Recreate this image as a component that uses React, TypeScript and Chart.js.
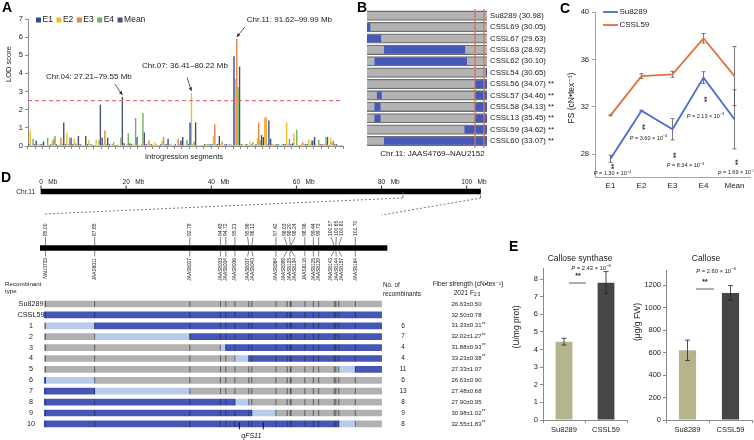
import React, { useEffect, useRef } from 'react';
import { Chart, registerables } from 'chart.js';

Chart.register(...registerables);

const FONT = '"Liberation Sans", Arial, "DejaVu Sans", sans-serif';
Chart.defaults.font.family = FONT;
Chart.defaults.color = '#1a1a1a';

/* ---------------- Panel A data ---------------- */
const segmentLabels = ['s01','s02','s03','s04','s05','s06','s07','s08','s09','s10','s11','s12','s13','s14','s15','s16','s17','s18','s19','s20','s21','s22','s23','s24','s25','s26','s27','s28','s29','s30','s31','s32','s33','s34','s35','s36','s37','s38','s39','s40','s41','s42','s43'];
const lodE1 = [0.10,0.30,0.25,0.10,0.05,0.10,0.10,0.10,0.10,0.05, 0.45,0.10,0.05,0.15,0.10,0.05,0.10,0.05,0.10,0.40, 0.10,0.50,1.30,0.05,0.10,0.10,0.55,0.10,4.95,0.10, 0.05,0.10,0.50,0.40,0.10,0.10,0.15,0.05,0.10,0.50, 0.10,0.05,0.10];
const lodE2 = [0.85,0.10,0.05,0.30,0.10,0.75,0.40,0.10,0.35,0.35, 0.10,0.05,0.10,0.05,0.10,0.05,0.10,0.20,0.30,0.10, 0.05,0.10,2.92,0.05,0.10,0.55,0.10,0.05,3.70,0.10, 0.25,0.45,1.55,0.10,0.10,1.30,0.70,0.10,0.35,0.10, 0.10,0.45,0.05];
const lodE3 = [0.05,0.10,0.05,0.40,0.45,0.10,0.15,0.05,0.10,0.05, 0.85,0.10,0.05,0.10,0.05,0.10,0.30,0.10,0.50,0.10, 0.40,0.05,0.10,0.05,0.10,1.20,0.25,0.10,5.90,0.05, 0.10,1.30,1.60,0.10,0.05,0.10,0.05,0.20,0.10,0.05, 0.10,0.20,0.05];
const lodE4 = [0.40,0.10,0.45,0.55,0.10,0.45,0.10,0.05,0.10,0.30, 0.10,0.20,0.45,0.70,1.55,1.82,0.10,0.05,0.10,0.05, 0.10,0.35,0.25,0.05,0.10,0.10,0.05,0.10,3.25,0.10, 0.20,0.30,0.10,0.05,0.10,0.40,0.90,0.10,0.30,0.35, 0.50,0.30,0.05];
const lodMean = [0.10,0.10,0.05,0.10,1.30,0.45,0.55,0.55,0.05,2.28, 0.45,0.05,2.70,0.15,0.50,0.75,0.10,0.05,0.10,0.05, 0.30,0.10,1.30,0.05,0.10,0.10,0.10,0.05,4.38,0.10, 0.05,0.60,1.40,0.10,0.10,0.10,0.05,0.10,0.30,0.10, 0.50,0.10,0.05];
const lodSeriesNames = ['E1', 'E2', 'E3', 'E4', 'Mean'];
const lodYTicks = [0, 1, 2, 3, 4, 5, 6, 7];
const lodThreshold = 2.5;
const peakTexts = ['Chr.04: 27.21–79.55 Mb', 'Chr.07: 36.41–80.22 Mb', 'Chr.11: 91.62–99.99 Mb'];
const peakSegments = [12, 22, 28];
const peakSeries = [4, 1, 2];

/* ---------------- Panel B data ---------------- */
const csslRows = ['Su8289 (30.98)','CSSL69 (30.05)','CSSL67 (29.63)','CSSL63 (28.92)','CSSL62 (30.10)','CSSL54 (30.65)','CSSL56 (34.07) **','CSSL57 (34.46) **','CSSL58 (34.13) **','CSSL13 (35.45) **','CSSL59 (34.62) **','CSSL60 (33.07) **'];
const csslSeg1: any[] = [null,[0,2.5],[0,11.5],[14.5,81.5],[6.5,83],null,null,[8.5,12],[6.5,11],[6.5,11],null,[14.5,100]];
const csslSeg2: any[] = [null,null,null,null,null,[99.2,100],[90,100],[90,100],[90,100],[90,100],[81.5,100],null];
const chrSpan = [0, 100];
const markedInterval = [90, 97.5];
const csslRegionText = 'Chr.11: JAAS4769–NAU2152';

/* ---------------- Panel C data ---------------- */
const envLabels = ['E1', 'E2', 'E3', 'E4', 'Mean'];
const fsSu8289 = [27.6, 31.67, 30.1, 34.47, 30.94];
const fsSu8289Err = [0.3, 0.05, 0.9, 0.5, 2.5];
const fsCSSL59 = [31.28, 34.6, 34.75, 37.8, 34.6];
const fsCSSL59Err = [0.05, 0.2, 0.25, 0.4, 2.5];
const fsPMant = ['1.30', '3.60', '8.34', '2.13', '1.69'];
const fsPExp = ['−4', '−4', '−3', '−3', '−3'];
const fsYTicks = [28, 32, 36, 40];

/* ---------------- Panel D data ---------------- */
const chrLengthMb = 103.36;
const overviewTicksMb = [0, 20, 40, 60, 80, 100];
const zoomStartMb = 85;
const zoomBarMb = [84.70, 103.41];
const recombSpanMb = [84.935, 103.12];
const markerMb = [85.00, 87.65, 92.78, 94.43, 94.72, 95.21, 95.96, 96.12, 97.42, 98.03, 98.20, 98.24, 98.98, 99.44, 99.73, 100.57, 100.65, 100.81, 101.70];
const markerNames = ['NAU0703','JAAS8011','JAAS8027','JAAS8033','JAAS8034','JAAS8036','JAAS8037','JAAS8040','JAAS8084','JAAS8099','JAAS8103','JAAS8104','JAAS8118','JAAS8125','JAAS8129','JAAS8143','JAAS8144','JAAS8157','JAAS8164'];
const recombRows = ['Su8289', 'CSSL59', '1', '2', '3', '4', '5', '6', '7', '8', '9', '10'];
const grayIntervals: any[] = [[84.935,103.12],null,[84.935,85.00],[84.935,87.65],[84.935,94.43],[84.935,95.21],[84.935,100.81],[87.65,103.12],[92.78,103.12],[95.96,103.12],[97.42,103.12],[101.70,103.12]];
const blueIntervals: any[] = [null,[84.935,103.12],[87.65,103.12],[92.78,103.12],[94.72,103.12],[95.96,103.12],[101.70,103.12],[84.935,85.00],[84.935,87.65],[84.935,95.21],[84.935,96.12],[84.935,100.81]];
const lightIntervals: any[] = [null,null,[85.00,87.65],[87.65,92.78],[94.43,94.72],[95.21,95.96],[100.81,101.70],[85.00,87.65],[87.65,92.78],[95.21,95.96],[96.12,97.42],[100.81,101.70]];
const recombCounts = ['', '', '6', '7', '4', '4', '11', '6', '13', '8', '9', '8'];
const fiberStrength = ['26.63±0.50','32.50±0.78','31.33±0.31','32.02±1.27','31.88±0.93','33.23±0.38','27.33±1.07','26.63±0.90','27.48±0.68','27.90±0.95','30.98±1.02','32.55±1.83'];
const fiberSig = ['', '', '**', '**', '**', '**', '', '', '', '', '**', '**'];
const qtlMb = [95.45, 96.74];

/* ---------------- Panel E data ---------------- */
const genotypes = ['Su8289', 'CSSL59'];
const calloseSynthase = [4.45, 7.8];
const calloseSynthaseErr = [0.19, 0.63];
const callose = [620, 1130];
const calloseErr = [90, 65];
const csYTicks = [0, 1, 2, 3, 4, 5, 6, 7, 8];
const calloseYTicks = [0, 200, 400, 600, 800, 1000, 1200];

/* ---------------- layout ---------------- */
const BOX = {
  A: { l: 0, t: 0, w: 350, h: 170 },
  B: { l: 360, t: 0, w: 215, h: 165 },
  C: { l: 560, t: 0, w: 194, h: 195 },
  D1: { l: 0, t: 160, w: 500, h: 125 },
  D2: { l: 0, t: 280, w: 530, h: 160 },
  E1: { l: 505, t: 250, w: 125, h: 190 },
  E2: { l: 630, t: 250, w: 124, h: 190 },
};

const lodColors = ['#2d4b9b', '#f1be2a', '#e7823f', '#6fb15e', '#45546b'];
const INK = '#1a1a1a';

function drawText(ctx: any, s: string, x: number, y: number, size: number, align: any = 'left', o: any = {}) {
  ctx.save();
  ctx.font = `${o.italic ? 'italic ' : ''}${o.bold ? 'bold ' : ''}${size}px ${FONT}`;
  ctx.fillStyle = o.color || INK;
  ctx.textAlign = align;
  ctx.textBaseline = o.baseline || 'middle';
  ctx.translate(x, y);
  if (o.rotate) ctx.rotate(o.rotate);
  ctx.fillText(s, 0, 0);
  ctx.restore();
}
function textW(ctx: any, s: string, size: number, o: any = {}) {
  ctx.save();
  ctx.font = `${o.italic ? 'italic ' : ''}${o.bold ? 'bold ' : ''}${size}px ${FONT}`;
  const w = ctx.measureText(s).width;
  ctx.restore();
  return w;
}
function strokeLine(ctx: any, x1: number, y1: number, x2: number, y2: number, color = '#333', lw = 1, dash: number[] = []) {
  ctx.save();
  ctx.strokeStyle = color; ctx.lineWidth = lw; ctx.setLineDash(dash);
  ctx.beginPath(); ctx.moveTo(x1, y1); ctx.lineTo(x2, y2); ctx.stroke();
  ctx.restore();
}
function errBar(ctx: any, x: number, yTop: number, yBot: number, cap: number, color: string, lw: number) {
  strokeLine(ctx, x, yTop, x, yBot, color, lw);
  strokeLine(ctx, x - cap, yTop, x + cap, yTop, color, lw);
  strokeLine(ctx, x - cap, yBot, x + cap, yBot, color, lw);
}
function arrow(ctx: any, x1: number, y1: number, x2: number, y2: number) {
  ctx.save();
  ctx.strokeStyle = '#333'; ctx.fillStyle = '#333'; ctx.lineWidth = 0.8;
  ctx.beginPath(); ctx.moveTo(x1, y1); ctx.lineTo(x2, y2); ctx.stroke();
  const a = Math.atan2(y2 - y1, x2 - x1), L = 4;
  ctx.beginPath();
  ctx.moveTo(x2, y2);
  ctx.lineTo(x2 - L * Math.cos(a - 0.45), y2 - L * Math.sin(a - 0.45));
  ctx.lineTo(x2 - L * Math.cos(a + 0.45), y2 - L * Math.sin(a + 0.45));
  ctx.closePath(); ctx.fill();
  ctx.restore();
}
function drawPValue(ctx: any, cx: number, cy: number, mant: string, exp: string, size: number) {
  const body = ` = ${mant} × 10`;
  const wP = textW(ctx, 'P', size, { italic: true });
  const wB = textW(ctx, body, size);
  const wE = textW(ctx, exp, size * 0.7);
  let x = cx - (wP + wB + wE) / 2;
  drawText(ctx, 'P', x, cy, size, 'left', { italic: true }); x += wP;
  drawText(ctx, body, x, cy, size, 'left'); x += wB;
  drawText(ctx, exp, x, cy - size * 0.38, size * 0.7, 'left');
}
function spread(xs: number[], gap: number) {
  const out = xs.slice();
  for (let it = 0; it < 300; it++) {
    let moved = false;
    for (let i = 1; i < out.length; i++) {
      const d = out[i] - out[i - 1];
      if (d < gap - 0.01) { const p = (gap - d) / 2; out[i - 1] -= p; out[i] += p; moved = true; }
    }
    if (!moved) break;
  }
  return out;
}
const noUi = { legend: { display: false }, tooltip: { enabled: false } };

/* ---------------- Chart builders ---------------- */
function buildA(canvas: HTMLCanvasElement) {
  const series = [lodE1, lodE2, lodE3, lodE4, lodMean];
  const plugin = {
    id: 'panelA',
    afterDatasetsDraw(chart: any) {
      const ctx = chart.ctx;
      const { left, right } = chart.chartArea;
      const ys = chart.scales.y;
      const yt = ys.getPixelForValue(lodThreshold);
      strokeLine(ctx, left, yt, right, yt, '#e05a5a', 1, [4, 3]);
      let lx = 36; const ly = 20;
      lodSeriesNames.forEach((n, i) => {
        ctx.fillStyle = lodColors[i];
        ctx.fillRect(lx, ly - 2.5, 5, 5);
        drawText(ctx, n, lx + 6.5, ly, 8.5, 'left');
        lx += 6.5 + textW(ctx, n, 8.5) + 3.5;
      });
      drawText(ctx, 'LOD score', 9, 64, 7.5, 'center', { rotate: -Math.PI / 2 });
      drawText(ctx, 'Introgression segments', 184, 157, 7.5, 'center');
      const geo = [
        { tail: [-7.5, -11], text: [-33.5, -18], align: 'center' },
        { tail: [-4.4, -13.7], text: [-6.5, -25.7], align: 'center' },
        { tail: [8, -10], text: [10, -17], align: 'left' },
      ];
      peakTexts.forEach((t, k) => {
        const el = chart.getDatasetMeta(peakSeries[k]).data[peakSegments[k]];
        const tx = el.x, ty = el.y - 2;
        arrow(ctx, tx + geo[k].tail[0], ty + geo[k].tail[1], tx, ty);
        drawText(ctx, t, tx + geo[k].text[0], ty + geo[k].text[1], 8, geo[k].align);
      });
    },
  };
  return new Chart(canvas, {
    type: 'bar',
    data: {
      labels: segmentLabels,
      datasets: series.map((d, i) => ({
        label: lodSeriesNames[i], data: d, backgroundColor: lodColors[i],
        categoryPercentage: 0.95, barPercentage: 1.0, borderWidth: 0,
      })),
    },
    options: {
      responsive: false, animation: false, events: [],
      layout: { padding: { left: 0, right: 7, top: 19, bottom: 0 } },
      plugins: noUi as any,
      scales: {
        x: {
          grid: { display: true, drawOnChartArea: false, drawTicks: true, tickLength: 3, color: '#8a8a8a', offset: true },
          border: { display: true, color: '#8a8a8a' },
          ticks: { display: false },
          afterFit: (s: any) => { s.height = 24; },
        },
        y: {
          min: 0, max: 7,
          afterBuildTicks: (s: any) => { s.ticks = lodYTicks.map((v) => ({ value: v })); },
          ticks: { font: { size: 7.5 }, color: INK, padding: 2 },
          grid: { drawOnChartArea: false, tickLength: 3, color: '#8a8a8a' },
          border: { color: '#8a8a8a' },
          afterFit: (s: any) => { s.width = 28; },
        },
      },
    } as any,
    plugins: [plugin],
  });
}

function buildB(canvas: HTMLCanvasElement) {
  const box = BOX.B;
  const plugin = {
    id: 'panelB',
    afterDatasetsDraw(chart: any) {
      const ctx = chart.ctx;
      const xs = chart.scales.x;
      const { top, bottom } = chart.chartArea;
      markedInterval.forEach((v) => {
        const x = xs.getPixelForValue(v);
        strokeLine(ctx, x, top - 1, x, bottom + 1, '#d27656', 1.3);
      });
      drawText(ctx, csslRegionText, 432.5 - box.l, 154 - box.t, 8, 'center');
    },
  };
  return new Chart(canvas, {
    type: 'bar',
    data: {
      labels: csslRows,
      datasets: [
        { data: csslSeg1, backgroundColor: '#4658b9', barThickness: 7, grouped: false, order: 1, borderWidth: 0 },
        { data: csslSeg2, backgroundColor: '#4658b9', barThickness: 7, grouped: false, order: 1, borderWidth: 0 },
        {
          data: csslRows.map(() => chrSpan), backgroundColor: '#b3b3b3', borderColor: '#6e6e6e',
          borderWidth: { top: 1.3, bottom: 1.3, left: 0, right: 0 }, borderSkipped: false,
          barThickness: 9.5, grouped: false, order: 2,
        },
      ],
    } as any,
    options: {
      indexAxis: 'y', responsive: false, animation: false, events: [],
      layout: { padding: { left: 7, right: 0, top: 10, bottom: 18.3 } },
      plugins: noUi as any,
      scales: {
        x: { display: false, min: 0, max: 100 },
        y: {
          position: 'right',
          grid: { display: false, drawTicks: false }, border: { display: false },
          ticks: { font: { size: 7.8 }, color: INK, padding: 3, autoSkip: false },
          afterFit: (s: any) => { s.width = 88; },
        },
      },
    } as any,
    plugins: [plugin],
  });
}

function buildC(canvas: HTMLCanvasElement) {
  const box = BOX.C;
  const starFS = [26.95, 30.3, 27.9, 32.65, 27.3];
  const pFS = [26.35, 29.35, 27.0, 31.2, 26.4];
  const pDx = [2, 7, 13, 2, 2];
  const plugin = {
    id: 'panelC',
    beforeDatasetsDraw(chart: any) {
      const ctx = chart.ctx; const xs = chart.scales.x, ys = chart.scales.y;
      const sets: [number[], number[]][] = [[fsSu8289, fsSu8289Err], [fsCSSL59, fsCSSL59Err]];
      sets.forEach(([v, e]) => v.forEach((val, i) => {
        const x = xs.getPixelForValue(i);
        errBar(ctx, x, ys.getPixelForValue(val + e[i]), ys.getPixelForValue(val - e[i]), 2, '#555', 0.8);
      }));
    },
    afterDatasetsDraw(chart: any) {
      const ctx = chart.ctx; const xs = chart.scales.x, ys = chart.scales.y;
      envLabels.forEach((_, i) => {
        const x = xs.getPixelForValue(i);
        drawText(ctx, '**', x, ys.getPixelForValue(starFS[i]), 7, 'center', { rotate: Math.PI / 2, bold: true });
        drawPValue(ctx, x + pDx[i], ys.getPixelForValue(pFS[i]), fsPMant[i], fsPExp[i], 5.5);
      });
      strokeLine(ctx, 603 - box.l, 12, 618 - box.l, 12, '#4a6cd4', 1.8);
      drawText(ctx, 'Su8289', 619.5 - box.l, 12, 8);
      strokeLine(ctx, 603 - box.l, 25, 618 - box.l, 25, '#e2703a', 1.8);
      drawText(ctx, 'CSSL59', 619.5 - box.l, 25, 8);
      drawText(ctx, 'FS (cN•tex⁻¹)', 572 - box.l, 98, 8.5, 'center', { rotate: -Math.PI / 2 });
    },
  };
  return new Chart(canvas, {
    type: 'line',
    data: {
      labels: envLabels,
      datasets: [
        { label: 'Su8289', data: fsSu8289, borderColor: '#4a6cd4', borderWidth: 1.8, pointRadius: 0, tension: 0 },
        { label: 'CSSL59', data: fsCSSL59, borderColor: '#e2703a', borderWidth: 1.8, pointRadius: 0, tension: 0 },
      ],
    },
    options: {
      responsive: false, animation: false, events: [],
      layout: { padding: { left: 0, right: 4, top: 12.3, bottom: 0 } },
      plugins: noUi as any,
      scales: {
        x: {
          offset: true, grid: { display: false, drawTicks: false }, border: { display: true, color: '#a6a6a6' },
          ticks: { font: { size: 8 }, color: INK, padding: 3 },
          afterFit: (s: any) => { s.height = 17.3; },
        },
        y: {
          min: 26, max: 40,
          afterBuildTicks: (s: any) => { s.ticks = fsYTicks.map((v) => ({ value: v })); },
          grid: { drawOnChartArea: false, tickLength: 3, color: '#a6a6a6' },
          border: { color: '#a6a6a6' },
          ticks: { font: { size: 7.5 }, color: INK, padding: 3 },
          afterFit: (s: any) => { s.width = 35; },
        },
      },
    } as any,
    plugins: [plugin],
  });
}

function buildD1(canvas: HTMLCanvasElement) {
  const plugin = {
    id: 'panelD1',
    afterDatasetsDraw(chart: any) {
      const ctx = chart.ctx;
      const xo = chart.scales.xo, xd = chart.scales.xd, ys = chart.scales.y;
      const ovY = ys.getPixelForValue(0), zY = ys.getPixelForValue(1);
      drawText(ctx, 'Chr.11', 35, ovY + 0.5, 6.5, 'right');
      overviewTicksMb.forEach((v) => {
        const x = xo.getPixelForValue(v);
        strokeLine(ctx, x, ovY - 6, x, ovY - 2.5, '#000', 0.8);
        const num = String(v);
        const w = textW(ctx, num, 6.5);
        drawText(ctx, num, x, ovY - 9.5, 6.5, 'center');
        drawText(ctx, 'Mb', x + w / 2 + 5.5, ovY - 9.5, 6.5, 'left');
      });
      const xa = xo.getPixelForValue(zoomStartMb), xb = xo.getPixelForValue(chrLengthMb);
      strokeLine(ctx, xa, ovY - 3, xa, ovY + 6.5, '#444', 0.8, [2, 1.5]);
      strokeLine(ctx, xb - 0.5, ovY - 3, xb - 0.5, ovY + 6.5, '#444', 0.8, [2, 1.5]);
      strokeLine(ctx, xa, ovY + 6.5, xd.getPixelForValue(recombSpanMb[0]), ovY + 22.5, '#555', 0.8, [2, 2]);
      strokeLine(ctx, xb, ovY + 6.5, xd.getPixelForValue(recombSpanMb[1]), ovY + 23.5, '#555', 0.8, [2, 2]);
      const mx = markerMb.map((m) => xd.getPixelForValue(m));
      const lx = spread(mx, 5.4);
      markerMb.forEach((m, i) => {
        strokeLine(ctx, lx[i], zY - 11, mx[i], zY - 2.5, '#666', 0.8);
        strokeLine(ctx, mx[i], zY + 2.5, lx[i], zY + 8.5, '#666', 0.8);
        drawText(ctx, m.toFixed(2), lx[i], zY - 12, 5, 'left', { rotate: -Math.PI / 2 });
        drawText(ctx, markerNames[i], lx[i], zY + 10, 4.8, 'right', { rotate: -Math.PI / 2 });
      });
    },
  };
  return new Chart(canvas, {
    type: 'bar',
    data: {
      labels: ['Chr.11', 'zoom'],
      datasets: [
        { indexAxis: 'y', data: [[0, chrLengthMb], null], xAxisID: 'xo', yAxisID: 'y', backgroundColor: '#000', barThickness: 5, grouped: false },
        { indexAxis: 'y', data: [null, [zoomBarMb[0], zoomBarMb[1]]], xAxisID: 'xd', yAxisID: 'y', backgroundColor: '#000', barThickness: 5, grouped: false },
      ],
    } as any,
    options: {
      indexAxis: 'y', responsive: false, animation: false, events: [],
      layout: { padding: { left: 40, right: 19, top: 3.25, bottom: 8.75 } },
      plugins: noUi as any,
      scales: {
        y: { type: 'category', axis: 'y', display: false },
        xo: { type: 'linear', axis: 'x', min: -0.235, max: 103.36, display: false },
        xd: { type: 'linear', axis: 'x', min: 84.7035, max: 108.477, display: false },
      },
    } as any,
    plugins: [plugin],
  });
}

function buildD2(canvas: HTMLCanvasElement) {
  const box = BOX.D2;
  const plugin = {
    id: 'panelD2',
    afterDatasetsDraw(chart: any) {
      const ctx = chart.ctx; const xs = chart.scales.x, ys = chart.scales.y;
      recombRows.forEach((r, i) => {
        const yc = ys.getPixelForValue(i);
        markerMb.forEach((m) => {
          const x = xs.getPixelForValue(m);
          strokeLine(ctx, x, yc - 3, x, yc + 3, 'rgba(35,35,55,0.6)', 1);
        });
        drawText(ctx, r, 31, yc, 7.2, 'center');
        if (recombCounts[i]) drawText(ctx, recombCounts[i], 403, yc, 6.5, 'center');
        drawText(ctx, fiberStrength[i], 451.5, yc, 6, 'left');
        if (fiberSig[i]) {
          const w = textW(ctx, fiberStrength[i], 6);
          drawText(ctx, fiberSig[i], 451.5 + w + 0.3, yc - 1.5, 4.8, 'left');
        }
      });
      drawText(ctx, 'Recombinant', 5, 284 - box.t, 6.2, 'left');
      drawText(ctx, 'type', 5, 291.5 - box.t, 6.2, 'left');
      drawText(ctx, 'No. of', 383, 285 - box.t, 6.3, 'left');
      drawText(ctx, 'recombinants', 383, 294 - box.t, 6.3, 'left');
      drawText(ctx, 'Fiber strength (cN•tex⁻¹)', 468, 284 - box.t, 6.5, 'center');
      const w1 = textW(ctx, '2021 F', 6.5);
      const w2 = textW(ctx, '2:3', 4.5);
      const sx = 467 - (w1 + w2) / 2;
      drawText(ctx, '2021 F', sx, 293.5 - box.t, 6.5, 'left');
      drawText(ctx, '2:3', sx + w1, 295 - box.t, 4.5, 'left');
      const yl = ys.getPixelForValue(recombRows.length - 1);
      qtlMb.forEach((m) => {
        const x = xs.getPixelForValue(m);
        strokeLine(ctx, x, yl - 1.5, x, yl + 5.5, '#111', 1);
      });
      drawText(ctx, 'qFS11', (xs.getPixelForValue(qtlMb[0]) + xs.getPixelForValue(qtlMb[1])) / 2, 436 - box.t, 7, 'center', { italic: true });
    },
  };
  return new Chart(canvas, {
    type: 'bar',
    data: {
      labels: recombRows,
      datasets: [
        { data: blueIntervals, backgroundColor: '#4656b6', barThickness: 6, grouped: false, borderWidth: 0, order: 1 },
        { data: lightIntervals, backgroundColor: '#b9cbeb', barThickness: 6, grouped: false, borderWidth: 0, order: 2 },
        { data: grayIntervals, backgroundColor: '#b1b1b1', barThickness: 6, grouped: false, borderWidth: 0, order: 3 },
      ],
    } as any,
    options: {
      indexAxis: 'y', responsive: false, animation: false, events: [],
      layout: { padding: { left: 40, right: 49, top: 18.55, bottom: 10.65 } },
      plugins: noUi as any,
      scales: {
        x: { type: 'linear', min: 84.7035, max: 108.477, display: false },
        y: { type: 'category', display: false },
      },
    } as any,
    plugins: [plugin],
  });
}

function buildE(canvas: HTMLCanvasElement, cfg: any) {
  const plugin = {
    id: 'panelE' + cfg.id,
    afterDatasetsDraw(chart: any) {
      const ctx = chart.ctx; const ys = chart.scales.y;
      const meta = chart.getDatasetMeta(0);
      cfg.values.forEach((v: number, i: number) => {
        const x = meta.data[i].x;
        errBar(ctx, x, ys.getPixelForValue(v + cfg.errs[i]), ys.getPixelForValue(v - cfg.errs[i]), 2.5, '#222', 0.8);
      });
      drawText(ctx, cfg.title, cfg.titleX, 9, 8.5, 'center');
      drawPValue(ctx, cfg.pX, cfg.pY, cfg.pMant, '−8', 5.8);
      drawText(ctx, '**', cfg.starX, cfg.starY, 7, 'center', { bold: true });
      strokeLine(ctx, cfg.lineX[0], cfg.lineY, cfg.lineX[1], cfg.lineY, '#333', 0.8);
      drawText(ctx, cfg.yTitle, cfg.yTitleX, cfg.yTitleY, 8.5, 'center', { rotate: -Math.PI / 2 });
    },
  };
  return new Chart(canvas, {
    type: 'bar',
    data: {
      labels: genotypes,
      datasets: [{ data: cfg.values, backgroundColor: ['#b6b48c', '#464646'], barPercentage: 0.4, categoryPercentage: 1.0, borderWidth: 0 }],
    },
    options: {
      responsive: false, animation: false, events: [],
      layout: { padding: { left: 0, right: cfg.padRight, top: cfg.padTop, bottom: 0 } },
      plugins: noUi as any,
      scales: {
        x: {
          grid: { display: true, drawOnChartArea: false, tickLength: 3, color: '#8a8a8a', offset: true },
          border: { display: true, color: '#8a8a8a' },
          ticks: { font: { size: 7.5 }, color: INK, padding: 2 },
          afterFit: (s: any) => { s.height = 20; },
        },
        y: {
          min: 0, max: cfg.max,
          afterBuildTicks: (s: any) => { s.ticks = cfg.ticks.map((v: number) => ({ value: v })); },
          grid: { drawOnChartArea: false, tickLength: 3, color: '#8a8a8a' },
          border: { color: '#8a8a8a' },
          ticks: { font: { size: 7.5 }, color: INK, padding: 2, callback: (v: any) => String(v) },
          afterFit: (s: any) => { s.width = cfg.yWidth; },
        },
      },
    } as any,
    plugins: [plugin],
  });
}

export default function App() {
  const aRef = useRef<HTMLCanvasElement>(null);
  const bRef = useRef<HTMLCanvasElement>(null);
  const cRef = useRef<HTMLCanvasElement>(null);
  const d1Ref = useRef<HTMLCanvasElement>(null);
  const d2Ref = useRef<HTMLCanvasElement>(null);
  const e1Ref = useRef<HTMLCanvasElement>(null);
  const e2Ref = useRef<HTMLCanvasElement>(null);

  useEffect(() => {
    const charts: Chart[] = [];
    charts.push(buildA(aRef.current!));
    charts.push(buildB(bRef.current!));
    charts.push(buildC(cRef.current!));
    charts.push(buildD1(d1Ref.current!));
    charts.push(buildD2(d2Ref.current!));
    const e1 = BOX.E1, e2 = BOX.E2;
    charts.push(buildE(e1Ref.current!, {
      id: 'L', values: calloseSynthase, errs: calloseSynthaseErr, max: 8.6, ticks: csYTicks,
      yWidth: 38, padRight: 3, padTop: 18.6,
      title: 'Callose synthase', titleX: 580 - e1.l, pMant: '2.43', pX: 591 - e1.l, pY: 268 - e1.t,
      starX: 578 - e1.l, starY: 276 - e1.t, lineX: [569 - e1.l, 586 - e1.l], lineY: 283 - e1.t,
      yTitle: '(U/mg prot)', yTitleX: 517 - e1.l, yTitleY: 327 - e1.t,
    }));
    charts.push(buildE(e2Ref.current!, {
      id: 'R', values: callose, errs: calloseErr, max: 1330, ticks: calloseYTicks,
      yWidth: 36, padRight: 2, padTop: 20.4,
      title: 'Callose', titleX: 706 - e2.l, pMant: '2.60', pX: 716 - e2.l, pY: 271 - e2.t,
      starX: 705 - e2.l, starY: 282 - e2.t, lineX: [696 - e2.l, 714 - e2.l], lineY: 289 - e2.t,
      yTitle: '(μg/g FW)', yTitleX: 638 - e2.l, yTitleY: 322 - e2.t,
    }));
    return () => { charts.forEach((c) => c.destroy()); };
  }, []);

  const cv = (ref: any, b: any) => (
    <canvas ref={ref} width={b.w} height={b.h}
      style={{ position: 'absolute', left: b.l, top: b.t, width: b.w, height: b.h }} />
  );
  const letter = (s: string, l: number, t: number) => (
    <div style={{ position: 'absolute', left: l, top: t, font: `bold 14px ${FONT}`, lineHeight: '14px', color: '#000' }}>{s}</div>
  );

  return (
    <div style={{ position: 'fixed', left: 0, top: 0, width: 754, height: 440, background: '#fff', overflow: 'hidden' }}>
      {cv(aRef, BOX.A)}
      {cv(bRef, BOX.B)}
      {cv(cRef, BOX.C)}
      {cv(d1Ref, BOX.D1)}
      {cv(d2Ref, BOX.D2)}
      {cv(e1Ref, BOX.E1)}
      {cv(e2Ref, BOX.E2)}
      {letter('A', 2, 0)}
      {letter('B', 357, 0)}
      {letter('C', 560, 1)}
      {letter('D', 1, 170)}
      {letter('E', 509, 239)}
    </div>
  );
}
